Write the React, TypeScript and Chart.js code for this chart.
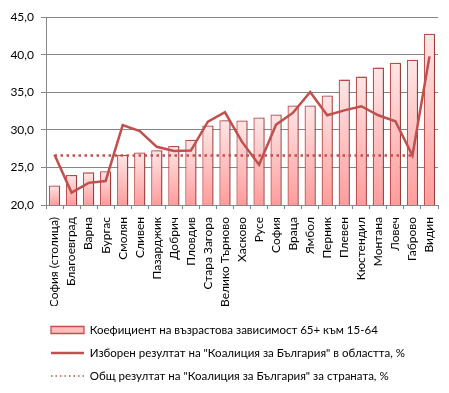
import { useEffect, useRef } from 'react';
import { Chart, registerables } from 'chart.js';

Chart.register(...registerables);

const categories = [
  'София (столица)', 'Благоевград', 'Варна', 'Бургас', 'Смолян', 'Сливен',
  'Пазарджик', 'Добрич', 'Пловдив', 'Стара Загора', 'Велико Търново', 'Хасково',
  'Русе', 'София', 'Враца', 'Ямбол', 'Перник', 'Плевен', 'Кюстендил', 'Монтана',
  'Ловеч', 'Габрово', 'Видин',
];

const dependency = [
  22.6, 24.0, 24.35, 24.5, 26.7, 27.0, 27.3, 27.85, 28.7, 30.6, 31.3, 31.25,
  31.65, 32.05, 33.25, 33.25, 34.6, 36.7, 37.1, 38.3, 38.95, 39.35, 42.8,
];

const regional = [
  26.7, 21.65, 22.95, 23.2, 30.65, 29.85, 27.75, 27.2, 27.25, 31.1, 32.35, 28.4,
  25.35, 30.7, 32.3, 35.05, 31.95, 32.6, 33.15, 31.95, 31.15, 26.6, 39.8,
];

const national = [
  26.6, 26.6, 26.6, 26.6, 26.6, 26.6, 26.6, 26.6, 26.6, 26.6, 26.6, 26.6,
  26.6, 26.6, 26.6, 26.6, 26.6, 26.6, 26.6, 26.6, 26.6, 26.6, null,
];

const seriesNames = [
  'Коефициент на възрастова зависимост 65+ към 15-64',
  'Изборен резултат на "Коалиция за България" в областта, %',
  'Общ резултат на "Коалиция за България" за страната, %',
];

const Y_MIN = 20;
const Y_MAX = 45;
const Y_STEP = 5;

const RED = '#C0504D';
const GRID = '#868686';
const BAR_TOP = '#FFE6E6';
const BAR_BOTTOM = '#FF9C9C';
const BAR_MID = '#FFBDBD';
const FONT = 'Lato';
const LEGEND_FONT_SIZE = 11.5;

const LEGEND_BOX_LEFT = 43;
const LEGEND_FIRST_ROW_TOP = 316.25;
const LEGEND_PAD = 11.5;

const tweaks = {
  id: 'tweaks',
  afterLayout(chart: any) {
    const lg = chart.legend;
    if (!lg) return;
    const dx = LEGEND_BOX_LEFT - (lg.left + LEGEND_PAD);
    const dy = LEGEND_FIRST_ROW_TOP - (lg.top + LEGEND_PAD);
    lg.left += dx;
    lg.right += dx;
    lg.top += dy;
    lg.bottom += dy;
  },
  beforeDatasetDraw(chart: any, args: any) {
    if (args.meta.type === 'bar') {
      const c = chart.ctx;
      c.save();
      c.shadowColor = 'rgba(0,0,0,0.22)';
      c.shadowBlur = 2;
      c.shadowOffsetX = 2.5;
      c.shadowOffsetY = 0;
    }
  },
  afterDatasetDraw(chart: any, args: any) {
    if (args.meta.type === 'bar') {
      chart.ctx.restore();
    }
  },
};

export default function App() {
  const ref = useRef<HTMLCanvasElement | null>(null);

  useEffect(() => {
    if (!ref.current) return;
    Chart.defaults.font.family = FONT;
    Chart.defaults.color = '#000';

    const chart = new Chart(ref.current, {
      type: 'bar',
      data: {
        labels: categories,
        datasets: [
          {
            type: 'bar',
            label: seriesNames[0],
            data: dependency,
            order: 3,
            backgroundColor: (ctx: any) => {
              const ch = ctx.chart;
              const yScale = ch.scales && ch.scales.y;
              if (!ch.chartArea || !yScale || ctx.type !== 'data') return BAR_MID;
              const v = dependency[ctx.dataIndex];
              const top = yScale.getPixelForValue(v);
              const bottom = yScale.getPixelForValue(Y_MIN);
              if (!isFinite(top) || !isFinite(bottom) || bottom <= top) return BAR_MID;
              const g = ch.ctx.createLinearGradient(0, top, 0, bottom);
              g.addColorStop(0, BAR_TOP);
              g.addColorStop(1, BAR_BOTTOM);
              return g;
            },
            borderColor: RED,
            borderWidth: 1.3,
            borderSkipped: 'bottom',
            categoryPercentage: 1,
            barPercentage: 0.66,
            pointStyle: 'rect',
          } as any,
          {
            type: 'line',
            label: seriesNames[1],
            data: regional,
            order: 1,
            borderColor: RED,
            backgroundColor: RED,
            borderWidth: 2.5,
            pointRadius: 0,
            tension: 0,
            pointStyle: 'line',
          } as any,
          {
            type: 'line',
            label: seriesNames[2],
            data: national,
            order: 2,
            borderColor: RED,
            backgroundColor: RED,
            borderWidth: 2.5,
            borderDash: [2.5, 3.5],
            borderCapStyle: 'butt',
            pointRadius: 0,
            spanGaps: false,
            pointStyle: 'line',
          } as any,
        ],
      },
      options: {
        animation: false,
        responsive: true,
        maintainAspectRatio: false,
        events: [],
        layout: { padding: { top: 9.3, right: 3, left: 0, bottom: 0 } },
        scales: {
          x: {
            grid: {
              display: true,
              drawOnChartArea: false,
              drawTicks: true,
              tickLength: 4,
              offset: true,
              color: GRID,
            },
            border: { color: GRID, width: 1 },
            ticks: {
              autoSkip: false,
              maxRotation: 90,
              minRotation: 90,
              padding: 8,
              font: { family: FONT, size: 12 },
              color: '#000',
            },
            afterFit: (scale: any) => {
              scale.height = 101;
              scale.paddingLeft = 0;
              scale.paddingRight = 0;
            },
          },
          y: {
            min: Y_MIN,
            max: Y_MAX,
            ticks: {
              stepSize: Y_STEP,
              padding: 7,
              font: { family: FONT, size: 12 },
              color: '#000',
              callback: (v: any) => Number(v).toFixed(1).replace('.', ','),
            },
            grid: { color: GRID, tickLength: 5, lineWidth: 1 },
            border: { color: GRID, width: 1 },
            afterFit: (scale: any) => {
              scale.width = 38;
              scale.paddingTop = 0;
              scale.paddingBottom = 0;
            },
          },
        },
        plugins: {
          tooltip: { enabled: false },
          legend: {
            display: true,
            position: 'bottom',
            align: 'start',
            labels: {
              usePointStyle: true,
              pointStyleWidth: 33,
              boxHeight: 7,
              padding: LEGEND_PAD,
              font: { family: FONT, size: LEGEND_FONT_SIZE },
              color: '#000',
              sort: (a: any, b: any) => a.datasetIndex - b.datasetIndex,
              generateLabels: (ch: any) => {
                const items = (Chart.defaults.plugins.legend.labels as any).generateLabels(ch);
                items.forEach((it: any) => {
                  if (it.datasetIndex === 0) {
                    it.fillStyle = BAR_MID;
                    it.strokeStyle = RED;
                    it.lineWidth = 1.3;
                    it.pointStyle = 'rect';
                  } else if (it.datasetIndex === 1) {
                    it.strokeStyle = RED;
                    it.lineWidth = 2.5;
                    it.pointStyle = 'line';
                  } else {
                    it.strokeStyle = RED;
                    it.lineWidth = 1.5;
                    it.lineDash = [1.5, 3];
                    it.pointStyle = 'line';
                  }
                });
                return items;
              },
            },
          } as any,
        },
      },
      plugins: [tweaks],
    });

    return () => chart.destroy();
  }, []);

  return (
    <div style={{ position: 'relative', width: 433, height: 377 }}>
      <canvas ref={ref} />
    </div>
  );
}
